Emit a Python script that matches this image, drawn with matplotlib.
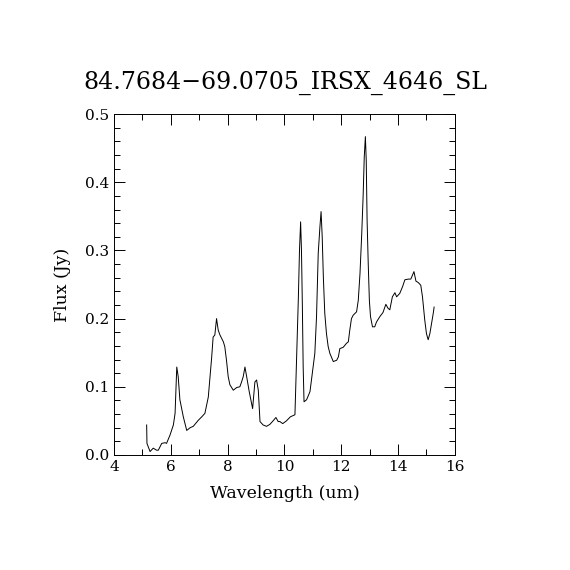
import numpy as np
import matplotlib
matplotlib.use("Agg")
import matplotlib.pyplot as plt
from matplotlib.ticker import MultipleLocator

# --- spectrum ---
wavelength = [5.15, 5.16, 5.27, 5.38, 5.50, 5.56, 5.68, 5.80, 5.85, 5.97, 6.09, 6.15,
              6.21, 6.26, 6.32, 6.44, 6.56, 6.68, 6.79, 6.85, 6.97, 7.09, 7.20, 7.32,
              7.38, 7.44, 7.49, 7.55, 7.61, 7.67, 7.73, 7.79, 7.85, 7.90, 7.96, 8.02,
              8.08, 8.20, 8.32, 8.43, 8.49, 8.55, 8.61, 8.67, 8.76, 8.88, 8.96, 9.02,
              9.08, 9.14, 9.25, 9.37, 9.49, 9.60, 9.70, 9.78, 9.84, 9.94, 10.07, 10.21,
              10.37, 10.43, 10.49, 10.53, 10.57, 10.60, 10.63, 10.66, 10.69, 10.78, 10.90,
              11.01, 11.07, 11.13, 11.19, 11.25, 11.29, 11.33, 11.37, 11.42, 11.48, 11.54,
              11.60, 11.72, 11.84, 11.90, 11.95, 12.07, 12.19, 12.25, 12.30, 12.36, 12.42,
              12.54, 12.60, 12.66, 12.72, 12.77, 12.81, 12.85, 12.88, 12.91, 12.95, 12.99,
              13.03, 13.10, 13.18, 13.24, 13.36, 13.47, 13.57, 13.65, 13.71, 13.80, 13.89,
              13.95, 14.06, 14.16, 14.24, 14.36, 14.45, 14.56, 14.63, 14.71, 14.80, 14.86,
              14.94, 15.00, 15.06, 15.12, 15.18, 15.24, 15.27]
flux = [0.044, 0.017, 0.005, 0.010, 0.007, 0.007, 0.017, 0.018, 0.017, 0.029, 0.044, 0.061,
        0.129, 0.115, 0.081, 0.056, 0.036, 0.040, 0.042, 0.045, 0.051, 0.056, 0.061, 0.085,
        0.115, 0.144, 0.173, 0.176, 0.200, 0.183, 0.176, 0.171, 0.166, 0.159, 0.139, 0.115,
        0.103, 0.095, 0.099, 0.100, 0.107, 0.115, 0.129, 0.115, 0.093, 0.068, 0.107, 0.110,
        0.095, 0.049, 0.044, 0.042, 0.045, 0.050, 0.055, 0.049, 0.049, 0.046, 0.050, 0.056,
        0.059, 0.144, 0.230, 0.300, 0.342, 0.300, 0.222, 0.129, 0.078, 0.081, 0.093,
        0.129, 0.149, 0.203, 0.296, 0.335, 0.357, 0.320, 0.261, 0.208, 0.178, 0.159,
        0.149, 0.137, 0.139, 0.144, 0.156, 0.158, 0.164, 0.166, 0.183, 0.200, 0.205,
        0.210, 0.227, 0.266, 0.323, 0.379, 0.437, 0.467, 0.432, 0.345, 0.281, 0.227,
        0.203, 0.188, 0.188, 0.195, 0.203, 0.209, 0.221, 0.215, 0.213, 0.232, 0.238,
        0.232, 0.237, 0.247, 0.257, 0.258, 0.258, 0.269, 0.255, 0.253, 0.249, 0.232,
        0.198, 0.178, 0.169, 0.178, 0.193, 0.208, 0.217]

title = "84.7684\u221269.0705_IRSX_4646_SL"

plt.rcParams['font.family'] = ['DejaVu Serif']

fig = plt.figure(figsize=(5.7, 5.7), dpi=100)
ax = fig.add_axes([0.2, 0.2018, 0.598, 0.598])
ax.plot(wavelength, flux, color='black', lw=0.7)

ax.set_xlim(4, 16)
ax.set_ylim(0, 0.5)
ax.xaxis.set_major_locator(MultipleLocator(2))
ax.xaxis.set_minor_locator(MultipleLocator(1))
ax.yaxis.set_major_locator(MultipleLocator(0.1))
ax.yaxis.set_minor_locator(MultipleLocator(0.02))
ax.yaxis.set_major_formatter(plt.FormatStrFormatter('%.1f'))
ax.tick_params(which='both', direction='in', top=True, right=True, labelsize=11, width=0.7)
ax.tick_params(which='major', length=8)
ax.tick_params(which='minor', length=4)
for s in ax.spines.values():
    s.set_linewidth(0.7)

ax.set_xlabel('Wavelength (um)', fontsize=12.5, labelpad=8)
ax.set_ylabel('Flux (Jy)', fontsize=12.5, labelpad=10)
fig.text(0.5, 0.855, title, ha='center', va='center', fontsize=17)

fig.savefig('out.png', dpi=100)
